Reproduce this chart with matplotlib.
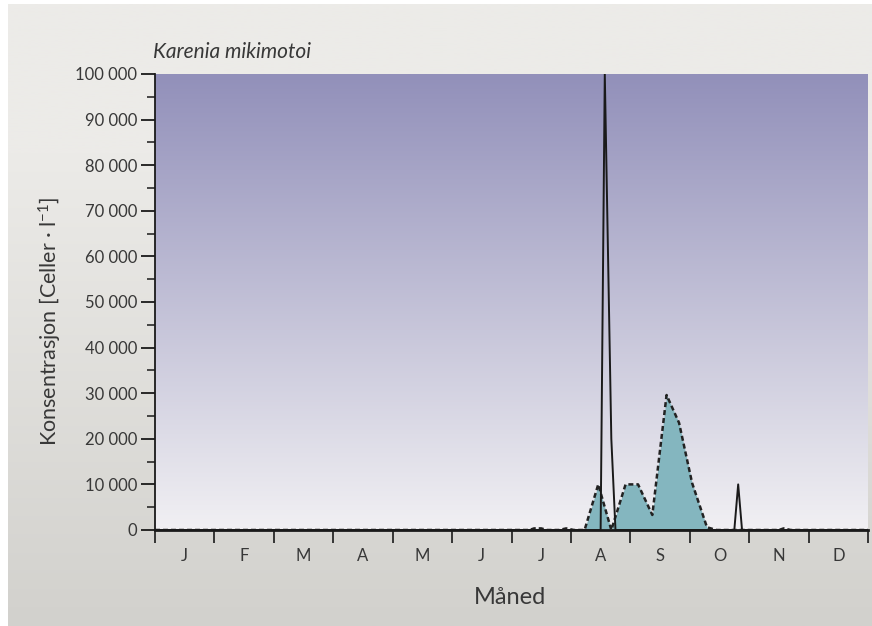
import numpy as np
import matplotlib
matplotlib.use("Agg")
import matplotlib.pyplot as plt
from matplotlib.colors import LinearSegmentedColormap
from matplotlib.ticker import FixedLocator, FuncFormatter

plt.rcParams["font.family"] = ["Lato", "DejaVu Sans"]
plt.rcParams["mathtext.default"] = "regular"

# data (x in months from 1 January, 0..12)
month_labels = ["J", "F", "M", "A", "M", "J", "J", "A", "S", "O", "N", "D"]

solid_t = [0, 7.50, 7.57, 7.68, 7.75, 9.75, 9.815, 9.88, 12]
solid_v = [0, 0, 100000, 20000, 0, 0, 10000, 0, 0]

dashed_t = [0, 6.30, 6.38, 6.50, 6.60, 6.80, 6.92, 7.05, 7.23, 7.46, 7.68,
            7.92, 8.13, 8.37, 8.61, 8.82, 9.04, 9.29, 9.45, 10.50, 10.58,
            10.70, 12]
dashed_v = [0, 0, 350, 350, 0, 0, 350, 0, 0, 10000, 0,
            10000, 10000, 3300, 29600, 23500, 10300, 600, 0, 0, 350,
            0, 0]

text_col = "#383838"

fig = plt.figure(figsize=(8.72, 6.26), dpi=100)
fig.patch.set_facecolor("white")

# grey panel behind everything
bg = fig.add_axes([8 / 872, 0, 1 - 8 / 872, 1 - 4 / 626])
bg.set_zorder(-5)
panel_cmap = LinearSegmentedColormap.from_list(
    "panel", [(0, "#d2d1cd"), (0.76, "#ecebe8"), (1, "#ecebe8")])
bg.imshow(np.linspace(0, 1, 256)[:, None], cmap=panel_cmap, aspect="auto",
          origin="lower", extent=[0, 1, 0, 1])
bg.set_axis_off()

ax = fig.add_axes([155 / 872, 1 - 530 / 626, 713 / 872, 456 / 626])
ax.patch.set_alpha(0)

plot_cmap = LinearSegmentedColormap.from_list("plot", ["#f1f0f3", "#9290ba"])
ax.imshow(np.linspace(0, 1, 256)[:, None], cmap=plot_cmap, aspect="auto",
          origin="lower", extent=[0, 12, 0, 100000], zorder=0)

ax.fill_between(dashed_t, dashed_v, 0, color="#84b6bf", lw=0, zorder=2)
ax.plot(dashed_t, dashed_v, color="#222222", lw=1.8, ls=(0, (2.0, 1.2)),
        zorder=3)
ax.plot(solid_t, solid_v, color="#1a1a1a", lw=1.4, zorder=4)

ax.set_xlim(0, 12)
ax.set_ylim(0, 100000)

for s in ["top", "right"]:
    ax.spines[s].set_visible(False)
ax.spines["left"].set_linewidth(1.3)
ax.spines["bottom"].set_linewidth(2.0)
ax.spines["left"].set_color("#1a1a1a")
ax.spines["bottom"].set_color("#1a1a1a")

ax.set_yticks(np.arange(0, 100001, 10000))
ax.yaxis.set_minor_locator(FixedLocator(np.arange(5000, 100000, 10000)))
ax.yaxis.set_major_formatter(
    FuncFormatter(lambda v, p: f"{int(v):,}".replace(",", " ")))
ax.tick_params(axis="y", which="major", direction="out", length=10, width=1.3,
               pad=3, labelsize=12, labelcolor=text_col, color="#1a1a1a")
ax.tick_params(axis="y", which="minor", direction="out", length=5.5,
               width=1.1, color="#1a1a1a")

ax.set_xticks(np.arange(0, 13))
ax.set_xticklabels([])
ax.set_xticks(np.arange(12) + 0.5, minor=True)
ax.set_xticklabels(month_labels, minor=True)
ax.tick_params(axis="x", which="major", direction="out", length=9.5,
               width=1.2, color="#1a1a1a")
ax.tick_params(axis="x", which="minor", length=0, pad=13, labelsize=12,
               labelcolor=text_col)

fig.text(153 / 872, 1 - 52 / 626, "Karenia mikimotoi", fontsize=15,
         style="italic", color=text_col, va="center", ha="left")
fig.text(510 / 872, 1 - 597 / 626, "Måned", fontsize=17,
         color=text_col, ha="center", va="center")
fig.text(50 / 872, 1 - 321 / 626, "Konsentrasjon [Celler · l$^{-1}$]",
         fontsize=15.5, color=text_col, rotation=90,
         ha="center", va="center")

fig.savefig("out.png", dpi=100)
